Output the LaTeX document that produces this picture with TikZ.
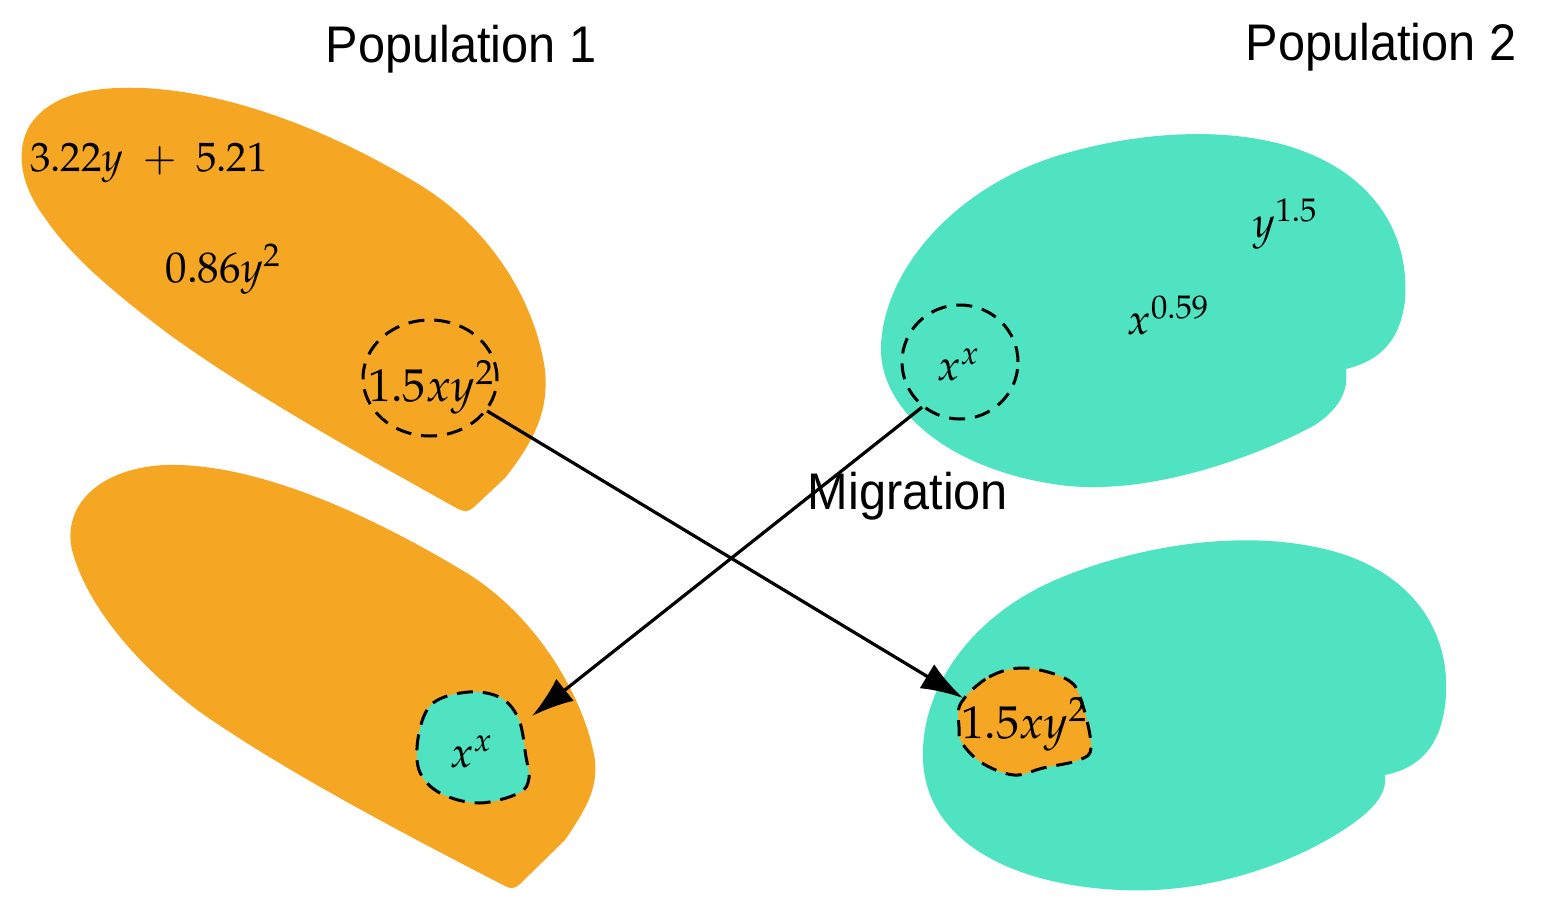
\documentclass[tikz,border=0pt]{standalone}
\usepackage{mathpazo}
\usepackage[no-math]{fontspec}
\setsansfont[FakeStretch=0.945]{Liberation Sans}
\usetikzlibrary{arrows.meta,shapes.geometric}
\definecolor{orng}{HTML}{F5A623}
\definecolor{turq}{HTML}{50E3C2}
\tikzset{
  orblob/.style={fill=orng,draw=none},
  tqblob/.style={fill=turq,draw=none},
  dashline/.style={draw=black,line width=3pt,dash pattern=on 16pt off 10pt},
  mathlbl/.style={font=\fontsize{43}{50}\selectfont,inner sep=0pt,anchor=base},
  biglbl/.style={mathlbl,font=\fontsize{46}{54}\selectfont},
  smllbl/.style={mathlbl,font=\fontsize{41}{48}\selectfont},
  title/.style={font=\sffamily\fontsize{51.5}{60}\selectfont,inner sep=0pt,anchor=base},
  migr/.style={-{Latex[length=42pt,width=28pt]},line width=3.2pt},
}
\begin{document}
\begin{tikzpicture}[x=1pt,y=-1pt]
\useasboundingbox (0,0) rectangle (1546,916);
% population 1, upper individual
\fill[orblob] (458,509) .. controls (380,465) and (260,400) .. (170,335)
  .. controls (110,290) and (70,255) .. (45,218)
  .. controls (20,185) and (15,150) .. (30,125)
  .. controls (50,95) and (90,86) .. (143,88)
  .. controls (230,92) and (330,130) .. (420,185)
  .. controls (490,228) and (535,300) .. (545,370)
  .. controls (549,410) and (535,440) .. (505,478)
  -- (474,507) .. controls (469,512) and (464,512) .. cycle;
% population 1, lower individual
\fill[orblob] (505,886) .. controls (420,842) and (290,775) .. (200,712)
  .. controls (130,660) and (85,600) .. (72,550)
  .. controls (62,505) and (100,468) .. (165,465)
  .. controls (260,462) and (380,520) .. (470,575)
  .. controls (540,620) and (585,700) .. (595,760)
  .. controls (598,790) and (585,810) .. (565,840)
  -- (520,884) .. controls (515,889) and (510,889) .. cycle;
% population 2, upper individual
\fill[tqblob] (1346,369) .. controls (1375,362) and (1400,345) .. (1405,300)
  .. controls (1410,230) and (1370,175) .. (1300,150)
  .. controls (1240,128) and (1150,128) .. (1060,155)
  .. controls (960,185) and (885,265) .. (881,345)
  .. controls (878,410) and (950,470) .. (1060,485)
  .. controls (1150,497) and (1260,455) .. (1315,425)
  .. controls (1345,405) and (1348,385) .. cycle;
% population 2, lower individual
\fill[tqblob] (1385,775) .. controls (1420,768) and (1443,745) .. (1446,695)
  .. controls (1450,620) and (1400,565) .. (1320,548)
  .. controls (1240,530) and (1140,545) .. (1060,578)
  .. controls (970,615) and (920,690) .. (923,760)
  .. controls (926,840) and (1010,885) .. (1120,890)
  .. controls (1220,895) and (1310,855) .. (1355,822)
  .. controls (1385,800) and (1386,785) .. cycle;
% migrated patches
\path[fill=turq,dashline] plot[smooth cycle,tension=0.6] coordinates {(419,733) (433,703) (469,692) (501,698) (519,720) (526,757) (529,778) (519,793) (479,803) (440,793) (419,770)};
\path[fill=orng,dashline] plot[smooth cycle,tension=0.6] coordinates {(961,703) (989,677) (1025,668) (1068,680) (1082,703) (1091,747) (1079,760) (1043,768) (1014,775) (982,763) (962,743) (959,727)};
% selected individuals
\node[ellipse,dashline,minimum width=134pt,minimum height=116pt,inner sep=0pt] (sel1) at (430,378) {};
\node[ellipse,dashline,minimum width=116pt,minimum height=114pt,inner sep=0pt] (sel2) at (960,362) {};
% titles
\node[title] (pop1) at (461,62) {Population 1};
\node[title] (pop2) at (1381,60) {Population 2};
% math labels
\node[smllbl] (t1) at (149,171) {$3.22y\;+\;5.21$};
\node[mathlbl] (t2) at (223,282) {$0.86y^2$};
\node[biglbl] (t3) at (431,401) {$1.5xy^2$};
\node[mathlbl] (t4) at (958,380) {$x^x$};
\node[mathlbl] (t5) at (1285,237) {$y^{1.5}$};
\node[mathlbl] (t6) at (1168,334) {$x^{0.59}$};
\node[mathlbl] (t7) at (471,767) {$x^x$};
\node[biglbl] (t8) at (1024,738) {$1.5xy^2$};
% arrows
\coordinate (tgt1) at (963,698);
\coordinate (tgt2) at (532,716);
\draw[migr] (sel1.-30) -- (tgt1);
\draw[migr] (sel2.230) -- (tgt2);
\node[title] (mig) at (908,509) {Migration};
\end{tikzpicture}
\end{document}
